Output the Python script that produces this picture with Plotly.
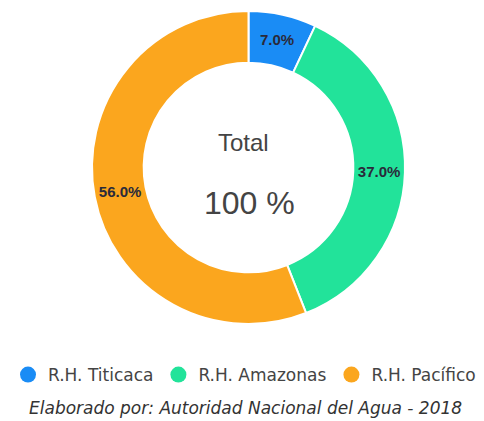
import plotly.graph_objects as go

labels = ["R.H. Titicaca", "R.H. Amazonas", "R.H. Pacífico"]
values = [7.0, 37.0, 56.0]
colors = ["#1a8cf5", "#22e39a", "#fba61e"]
center_title = "Total"
center_value = "100 %"
caption = "Elaborado por: Autoridad Nacional del Agua - 2018"

# page body has an 8px margin; work in page coords minus 8
OFF = 8
W, H = 484 - OFF, 421 - OFF
cx, cy, R = 248.5 - OFF, 167.5 - OFF, 156.5


def px_y(y):
    return 1 - (y - OFF) / H


def px_x(x):
    return (x - OFF) / W


fig = go.Figure()
fig.add_trace(go.Pie(
    labels=labels, values=values, hole=0.67, sort=False, direction="clockwise",
    rotation=0,
    marker=dict(colors=colors, line=dict(color="white", width=2)),
    texttemplate="<b>%{value:.1f}%</b>", textposition="inside",
    insidetextorientation="horizontal",
    textfont=dict(family="Liberation Sans, Arial", size=15, color="#2a2a3a"),
    showlegend=False,
    domain=dict(x=[(cx - R) / W, (cx + R) / W], y=[1 - (cy + R) / H, 1 - (cy - R) / H]),
    hoverinfo="label+percent",
))
for lab, col in zip(labels, colors):
    fig.add_trace(go.Scatter(
        x=[None], y=[None], mode="markers", name=lab,
        marker=dict(symbol="circle", size=16, color=col),
        showlegend=True,
    ))

fig.update_layout(
    width=W, height=H,
    margin=dict(l=0, r=0, t=0, b=0),
    paper_bgcolor="white", plot_bgcolor="white",
    xaxis=dict(visible=False), yaxis=dict(visible=False),
    legend=dict(orientation="h", x=px_x(242), xanchor="center", y=px_y(375), yanchor="middle",
                font=dict(family="DejaVu Sans", size=17, color="#444"),
                itemsizing="trace", itemwidth=30, tracegroupgap=0),
    annotations=[
        dict(text=center_title, x=px_x(243), y=px_y(142.5), xref="paper", yref="paper",
             xanchor="center", yanchor="middle",
             showarrow=False, font=dict(family="Liberation Sans, Arial", size=24, color="#444")),
        dict(text=center_value, x=px_x(249), y=px_y(203), xref="paper", yref="paper",
             xanchor="center", yanchor="middle",
             showarrow=False, font=dict(family="Liberation Sans, Arial", size=32, color="#444")),
        dict(text="<i>" + caption + "</i>", x=px_x(245), y=px_y(408), xref="paper", yref="paper",
             xanchor="center", yanchor="middle",
             showarrow=False, font=dict(family="DejaVu Sans", size=17, color="#333")),
    ],
)
fig.write_html("out.html")
